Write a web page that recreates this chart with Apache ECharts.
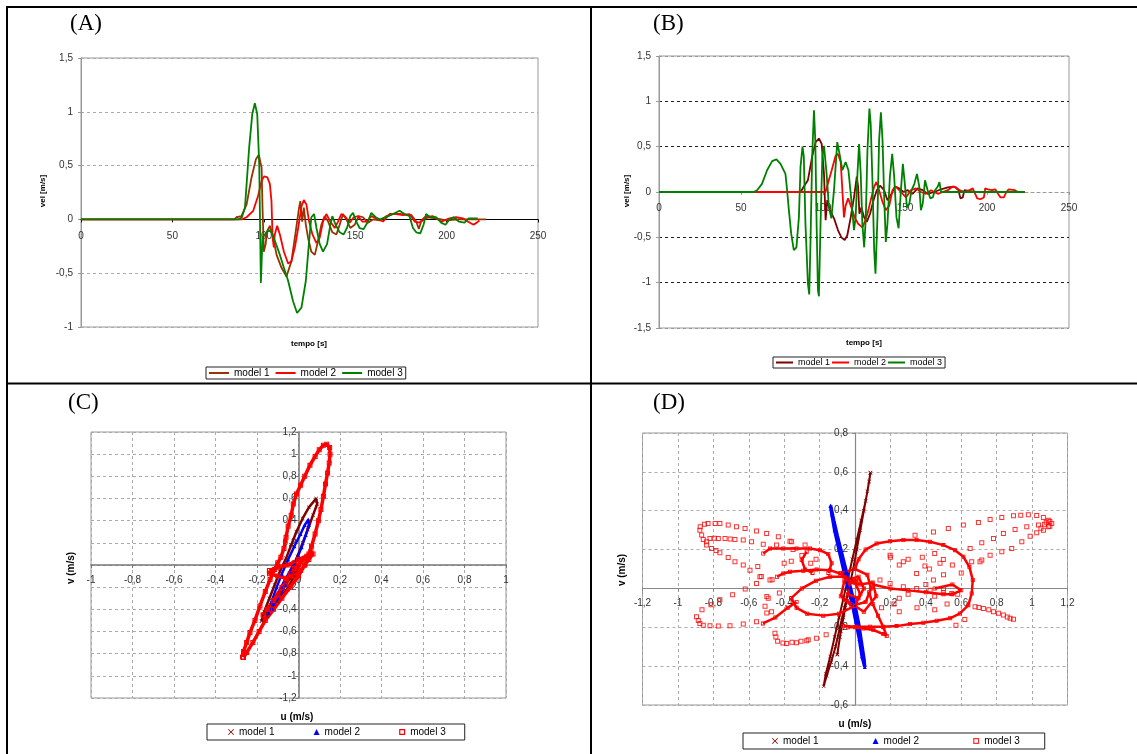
<!DOCTYPE html>
<html><head><meta charset="utf-8">
<script src="https://cdn.jsdelivr.net/npm/echarts@6/dist/echarts.min.js"></script>
<style>html,body{margin:0;padding:0;background:#fff}#c{width:1137px;height:754px}</style>
</head><body><div id="c"></div>
<script>
// ---------- axis ticks ----------
const timeTicks = [0, 50, 100, 150, 200, 250];
const velTicksA = [-1, -0.5, 0, 0.5, 1, 1.5];
const velTicksB = [-1.5, -1, -0.5, 0, 0.5, 1, 1.5];
const uTicksC = [-1, 1, 0.2];
const vTicksC = [-1.2, 1.2, 0.2];
const uTicksD = [-1.2, 1.2, 0.2];
const vTicksD = [-0.6, 0.8, 0.2];
const legendNames = ['model 1', 'model 2', 'model 3'];

// ---------- panel A : velocity time series [t, v] ----------
const a_m1 = [[0,0],[84,0],[85,0.02],[87.8,0.03],[90.6,0.14],[93.3,0.39],[95.7,0.56],[97.3,0.6],[98.8,0.48],[99.3,0.11],[100,-0.3],[101,-0.23],[101.8,-0.11],[103.3,-0.06],[104.8,-0.14],[107,-0.33],[109.7,-0.45],[112.4,-0.53],[115.1,-0.39],[117.5,-0.11],[119.3,0.11],[120,0.17],[121,-0.02],[121.9,0.11],[123,-0.05],[124.2,-0.17],[126,-0.3],[127.9,-0.33],[129.7,-0.2],[131.5,-0.05],[133.3,0.03],[135.2,-0.02],[137.5,-0.12],[139.7,-0.14],[141.5,-0.05],[143.3,0.05],[145.2,0],[147.3,-0.08],[149.7,-0.05],[152,0.03],[154.3,0.02],[157,-0.03],[159.7,0],[163.4,-0.01],[167,0.03],[170.6,0.05],[175.2,0.05],[180.7,0.04],[183.4,-0.02],[184.8,-0.09],[186.1,-0.02],[189.8,0.02],[194.3,0.01],[199.8,-0.01],[207,0],[214.3,0],[221.6,0]];
const a_m2 = [[0,0],[88,0],[90.6,0.02],[94.2,0.08],[96.9,0.22],[98.8,0.36],[100.2,0.4],[102,0.39],[103.3,0.33],[104.2,0.17],[104.8,-0.17],[105.5,-0.26],[106,-0.14],[107.3,-0.06],[108.8,-0.14],[111,-0.3],[113.3,-0.41],[115.1,-0.39],[117,-0.26],[118.8,-0.08],[120.6,0.12],[121.9,0.18],[123.3,0.14],[124.8,-0.02],[126.6,-0.14],[128.8,-0.22],[130.6,-0.17],[132.4,-0.02],[134.2,0.05],[136.4,-0.02],[138.8,-0.08],[140.6,-0.02],[142.4,0.05],[144.8,0.02],[147,-0.03],[149.2,0.02],[151.5,0.03],[153.9,-0.02],[156.4,-0.02],[158.8,0.03],[161.5,0.01],[165.2,-0.02],[168.8,0.05],[172.5,0.05],[176.1,0.04],[179.7,0.05],[182.5,-0.02],[185.2,-0.03],[187.9,0.02],[192.5,0.03],[197,-0.02],[201.6,0.01],[205.2,0.02],[208.9,0.01],[211.6,-0.02],[214.7,-0.05],[216.5,-0.03],[218,-0.01]];
const a_m3 = [[0,0],[86.5,0],[88,0.02],[89.7,0.11],[92,0.67],[93.7,0.98],[95.1,1.08],[96.4,0.98],[97.5,0.51],[98,-0.11],[98.4,-0.59],[99.3,-0.17],[101.5,-0.12],[103,-0.1],[104.2,-0.12],[106.5,-0.22],[108.8,-0.33],[111,-0.45],[113.3,-0.57],[116,-0.76],[118.2,-0.87],[120.6,-0.82],[123,-0.57],[124.8,-0.2],[126,0.02],[127.5,0.05],[128.8,-0.08],[130.6,-0.23],[132.4,-0.3],[134.6,-0.23],[136.4,-0.05],[137.5,0.03],[139.3,-0.05],[141.5,-0.12],[143.7,-0.14],[145.5,-0.08],[147.3,0.03],[148.8,0.06],[150.6,-0.02],[152.4,-0.08],[154.6,-0.09],[157,-0.02],[158.8,0.06],[161.2,0.02],[163.4,0],[167,0.02],[170.6,0.05],[174.3,0.08],[177,0.05],[179.7,0.03],[181.6,-0.08],[183.4,-0.12],[185.6,-0.13],[187.4,-0.05],[188.8,0.05],[191,0.02],[194.3,0.02],[197,-0.03],[199.4,-0.05],[201.6,0],[203.8,0.02],[206.7,-0.02],[209.8,-0.03],[212.1,0.01],[217,0.01]];

// ---------- panel B : velocity time series [t, v] ----------
const b_m1 = [[0,0],[86.3,0],[88.3,0.06],[90.8,0.13],[93.4,0.39],[95.5,0.55],[97.5,0.59],[99.2,0.53],[100.6,0.2],[101.6,-0.31],[102.6,-0.09],[104.2,-0.2],[106.7,-0.29],[109.1,-0.42],[111.2,-0.5],[113.2,-0.53],[114.8,-0.48],[116.9,-0.28],[118.9,-0.06],[120.6,0.17],[121.4,0.06],[122.2,-0.24],[123.4,-0.17],[125.1,-0.28],[126.7,-0.33],[128.7,-0.24],[130.8,-0.09],[132.8,0.02],[134.8,0.07],[137.3,0.02],[139.3,-0.09],[141.8,-0.02],[143.8,0.06],[146.5,0.04],[149.1,0],[151.6,0.02],[154.6,-0.02],[157.7,0.04],[160.8,0.02],[163.8,-0.02],[167.9,0],[172,0.03],[176.1,0.05],[180.1,0.06],[182.6,0.02],[183.8,-0.07],[185.2,-0.06],[186.2,0.02],[192.4,0],[200.5,0],[212.8,0],[223,0]];
const b_m2 = [[0,0],[101.5,0],[102.6,0.02],[105.3,0.24],[107.7,0.4],[109.1,0.42],[110.8,0.33],[111.8,0.02],[112.8,-0.28],[113.8,-0.15],[115.3,-0.07],[117.3,-0.17],[119.3,-0.28],[121.4,-0.35],[124,-0.39],[125.5,-0.33],[127.1,-0.24],[129.1,-0.09],[131.2,0.06],[132.6,0.11],[134.2,0.02],[136.3,-0.11],[138.3,-0.2],[140.4,-0.15],[142.4,0.02],[144.4,0.06],[147.5,0],[150.6,-0.06],[153.6,0.02],[156.7,0.04],[159.7,0],[162.8,-0.02],[165.9,0.02],[170,-0.02],[173,0],[176.1,0.02],[179.1,0.06],[181.2,0.05],[183.2,0.02],[186.2,0],[189.3,0.02],[191.3,0.04],[192.8,-0.02],[194,-0.07],[196,-0.08],[198.1,-0.06],[198.9,0.04],[200.5,0.03],[203,0.02],[205,0.03],[206.7,-0.02],[208.3,-0.06],[210.3,-0.06],[211.8,0],[213.2,0.03],[216.9,0.02],[218.9,0]];
const b_m3 = [[0,0],[57.7,0],[59.8,0.02],[62.8,0.09],[65.9,0.24],[69,0.34],[71.6,0.36],[74.1,0.31],[77.1,0.2],[78.1,0.02],[79.2,-0.2],[80.6,-0.46],[82.2,-0.64],[83.8,-0.61],[85.3,-0.28],[86.3,0.28],[87.5,0.5],[88.3,0.39],[89.3,-0.35],[90.8,-1.01],[91.6,-1.13],[92.4,-0.53],[93.4,0.39],[94.5,0.9],[95.3,0.57],[96.1,-0.35],[96.9,-1.08],[97.5,-1.15],[98.5,-0.35],[99.6,0.39],[100.6,0.51],[102.2,0.2],[103.6,-0.17],[105.1,-0.29],[106.7,0.02],[108.7,0.55],[110.4,0.39],[111.8,0.24],[113.8,0.33],[115.5,0.24],[117.3,-0.09],[118.9,-0.42],[119.9,-0.28],[121,0.2],[122,0.53],[123,0.2],[124,-0.35],[125.1,-0.61],[126.1,-0.28],[127.1,0.46],[128.3,0.92],[129.1,0.75],[130.2,0.09],[131.2,-0.64],[132,-0.9],[133.2,-0.28],[134.2,0.57],[135.3,0.88],[136.3,0.57],[137.3,-0.06],[138.3,-0.55],[139.3,-0.35],[140.8,0.17],[142.2,0.42],[143.4,0.17],[144.8,-0.28],[146.1,-0.4],[147.5,0.02],[148.7,0.31],[149.9,0.09],[151.2,-0.17],[152.6,-0.13],[154,0.02],[155.7,0.09],[157.3,0.2],[158.7,0.06],[159.7,-0.2],[160.8,-0.13],[162.2,0.13],[163.8,0.02],[165.4,-0.07],[166.9,-0.06],[168.3,0.02],[170,0.06],[171,0.11],[172,0],[223,0]];

// ---------- panel C : hodograph [u, v] ----------
const c_m1_loop = [[-0.178,-0.505],[-0.165,-0.42],[-0.14,-0.3],[-0.115,-0.18],[-0.09,-0.06],[-0.06,0.06],[-0.035,0.18],[-0.01,0.3],[0.02,0.42],[0.05,0.52],[0.085,0.6],[0.09,0.55],[0.07,0.45],[0.045,0.32],[0.02,0.2],[-0.005,0.08],[-0.03,-0.04],[-0.06,-0.16],[-0.09,-0.28],[-0.12,-0.38],[-0.15,-0.46],[-0.178,-0.505]];
const c_m1_inner = [[-0.16,-0.44],[-0.1,-0.33],[-0.05,-0.2],[-0.02,-0.1],[0,-0.02],[-0.04,-0.12],[-0.09,-0.25],[-0.13,-0.36],[-0.16,-0.44]];
const c_m2_loop = [[-0.145,-0.43],[-0.13,-0.33],[-0.105,-0.2],[-0.08,-0.08],[-0.05,0.05],[-0.02,0.17],[0.01,0.28],[0.03,0.36],[0.047,0.41],[0.05,0.36],[0.035,0.27],[0.015,0.16],[-0.01,0.05],[-0.035,-0.06],[-0.065,-0.18],[-0.095,-0.3],[-0.125,-0.4],[-0.145,-0.43]];
const c_m2_inner = [[-0.12,-0.35],[-0.07,-0.15],[-0.03,-0.02],[0,0.08],[-0.04,-0.05],[-0.08,-0.2],[-0.12,-0.35]];
const c_m3_outer = [[-0.27,-0.83],[-0.265,-0.78],[-0.25,-0.7],[-0.234,-0.61],[-0.21,-0.5],[-0.186,-0.37],[-0.16,-0.24],[-0.137,-0.13],[-0.115,-0.04],[-0.1,0.02],[-0.085,0.07],[-0.07,0.15],[-0.06,0.25],[-0.05,0.35],[-0.035,0.45],[-0.025,0.55],[-0.01,0.64],[0.01,0.72],[0.03,0.8],[0.055,0.9],[0.08,0.98],[0.1,1.04],[0.12,1.08],[0.136,1.09],[0.15,1.06],[0.152,1.0],[0.148,0.92],[0.14,0.83],[0.13,0.73],[0.12,0.62],[0.108,0.5],[0.096,0.4],[0.08,0.28],[0.063,0.17],[0.05,0.1],[0.03,0.0],[0.0,-0.1],[-0.04,-0.2],[-0.08,-0.3],[-0.12,-0.4],[-0.16,-0.5],[-0.19,-0.6],[-0.22,-0.7],[-0.25,-0.79],[-0.265,-0.835]];
const c_m3_inner = [[-0.14,-0.05],[-0.1,-0.02],[-0.05,0.0],[0,0.05],[0.04,0.08],[0.06,0.12],[0.07,0.1],[0.05,0.05],[0.03,0],[0.01,-0.05],[-0.02,-0.1],[-0.06,-0.12],[-0.1,-0.1],[-0.14,-0.08],[-0.14,-0.05]];
const c_m3_inner2 = [[-0.17,-0.45],[-0.12,-0.32],[-0.08,-0.2],[-0.04,-0.08],[0,0],[0.03,0.06],[-0.02,-0.03],[-0.06,-0.15],[-0.1,-0.27],[-0.15,-0.4],[-0.17,-0.45]];

// ---------- panel D : hodograph [u, v] ----------
const d_m1_loop = [[0.087,0.596],[0.07,0.5],[0.05,0.4],[0.03,0.3],[0.01,0.2],[-0.01,0.1],[-0.035,0],[-0.06,-0.1],[-0.085,-0.2],[-0.11,-0.3],[-0.135,-0.38],[-0.16,-0.45],[-0.177,-0.503],[-0.165,-0.44],[-0.14,-0.35],[-0.115,-0.25],[-0.09,-0.15],[-0.065,-0.05],[-0.04,0.05],[-0.015,0.15],[0.01,0.25],[0.035,0.35],[0.06,0.45],[0.08,0.55],[0.087,0.596]];
const d_m1_branch = [[-0.1,-0.34],[-0.085,-0.25],[-0.065,-0.15],[-0.045,-0.05],[-0.025,0.05],[-0.055,-0.1],[-0.08,-0.22],[-0.1,-0.34]];
const d_m2_loop = [[-0.138,0.425],[-0.12,0.35],[-0.1,0.27],[-0.075,0.18],[-0.05,0.09],[-0.025,0],[0,-0.09],[0.02,-0.18],[0.035,-0.27],[0.05,-0.36],[0.055,-0.404],[0.04,-0.35],[0.025,-0.26],[0.005,-0.17],[-0.015,-0.08],[-0.04,0.01],[-0.065,0.1],[-0.09,0.2],[-0.115,0.3],[-0.13,0.38],[-0.138,0.425]];
const d_m3_points = [[-0.874,0.318],[-0.85,0.33],[-0.83,0.334],[-0.79,0.334],[-0.763,0.334],[-0.716,0.326],[-0.669,0.317],[-0.621,0.308],[-0.556,0.296],[-0.499,0.283],[-0.433,0.266],[-0.358,0.24],[-0.282,0.223],
[-0.876,0.3],[-0.866,0.275],[-0.857,0.252],[-0.838,0.223],[-0.81,0.206],[-0.785,0.195],[-0.763,0.183],[-0.716,0.159],[-0.678,0.137],[-0.631,0.12],[-0.593,0.094],[-0.537,0.06],[-0.48,0.043],
[-0.838,0.24],[-0.819,0.257],[-0.795,0.258],[-0.772,0.257],[-0.734,0.257],[-0.705,0.255],[-0.678,0.252],[-0.631,0.249],[-0.584,0.24],[-0.518,0.228],[-0.443,0.223],[-0.367,0.243],
[-0.895,-0.146],[-0.885,-0.165],[-0.876,-0.18],[-0.857,-0.189],[-0.819,-0.192],[-0.772,-0.194],[-0.706,-0.192],[-0.631,-0.183],[-0.556,-0.171],
[-0.864,-0.11],[-0.813,-0.084],[-0.763,-0.058],[-0.691,-0.033],[-0.62,-0.003],[-0.556,0.026],
[-0.549,0.113],[-0.529,0.062],[-0.498,-0.041],[-0.508,-0.092],[-0.498,-0.127],[-0.468,0.045],[-0.427,-0.024],[-0.49,-0.05],[-0.471,-0.12],
[-0.452,-0.231],[-0.447,-0.25],[-0.437,-0.272],[-0.407,-0.281],[-0.386,-0.283],[-0.356,-0.277],[-0.33,-0.279],[-0.305,-0.272],[-0.273,-0.269],[-0.264,-0.264],[-0.217,-0.257],[-0.163,-0.238],
[0.339,0.274],[0.443,0.291],[0.527,0.308],[0.612,0.326],[0.697,0.339],[0.763,0.355],[0.829,0.365],[0.895,0.374],[0.936,0.377],[0.979,0.379],[1.026,0.375],[1.064,0.365],[1.092,0.351],[1.111,0.334],[1.1,0.32],[1.092,0.317],[1.064,0.3],[1.026,0.286],[0.989,0.269],[0.942,0.24],[0.885,0.206],[0.829,0.189],[0.763,0.171],[0.716,0.146],[0.659,0.137],
[1.036,0.326],[0.97,0.317],[0.904,0.303],[0.838,0.283],[0.782,0.257],[0.716,0.235],[0.65,0.206],
[1.08,0.34],[1.1,0.345],[1.07,0.33],[1.05,0.31],
[0.348,0.077],[0.443,0.043],[0.48,0.129],[0.38,0.16],[0.3,0.15],[0.25,0.12],[0.42,0.1],[0.55,0.12],[0.6,0.08],[0.5,0.07],[0.2,0.16],[0.45,0.18],[0.198,0.171],[0.273,0.137],[0.395,0.115],[0.499,0.149],[0.706,0.137],
[0.678,-0.094],[0.7,-0.098],[0.725,-0.103],[0.755,-0.11],[0.782,-0.12],[0.81,-0.128],[0.838,-0.137],[0.86,-0.147],[0.876,-0.154],[0.895,-0.159],
[0.141,0.043],[0.198,0.026],[0.273,0.009],[0.348,0],[0.424,-0.009],[0.499,-0.022],[0.546,-0.026],[0.58,-0.03],[0.5,0.0],[0.45,-0.04],[0.3,-0.03],[0.25,-0.05],[0.4,0.02],
[-0.3,0.17],[-0.22,0.15],[-0.25,0.13],[-0.36,0.14],[-0.4,0.13],[-0.35,0.2],
[0.15,-0.1],[0.25,-0.12],[0.35,-0.1],[0.45,-0.11],[0.52,-0.08],[0.22,-0.08],[0.62,-0.16],[0.57,-0.19]];
const d_m3_loopR = [[-0.066,-0.194],[0.009,-0.197],[0.085,-0.197],[0.16,-0.197],[0.235,-0.194],[0.311,-0.183],[0.386,-0.177],[0.461,-0.166],[0.537,-0.154],[0.593,-0.129],[0.64,-0.086],[0.659,-0.026],[0.665,0.043],[0.646,0.111],[0.612,0.163],[0.565,0.197],[0.499,0.223],[0.424,0.24],[0.348,0.249],[0.273,0.249],[0.198,0.243],[0.122,0.231],[0.06,0.2],[0.02,0.15],[0.0,0.1]];
const d_m3_ringL = [[-0.36,-0.05],[-0.33,-0.1],[-0.27,-0.13],[-0.18,-0.14],[-0.09,-0.13],[0.0,-0.09],[0.03,-0.03],[0.0,0.03],[-0.06,0.06],[-0.14,0.06],[-0.22,0.04],[-0.3,0.0],[-0.36,-0.05]];
const d_m3_upperL = [[-0.44,0.06],[-0.405,0.077],[-0.367,0.086],[-0.292,0.091],[-0.217,0.098],[-0.141,0.094],[-0.085,0.077],[-0.04,0.05],[0.02,0.04]];
const d_m3_topL = [[-0.518,0.18],[-0.48,0.206],[-0.405,0.206],[-0.33,0.206],[-0.254,0.206],[-0.198,0.197],[-0.151,0.177],[-0.132,0.129],[-0.15,0.08]];
const d_m3_arcL = [[-0.273,0.189],[-0.301,0.146],[-0.282,0.098],[-0.24,0.08]];
const d_m3_lowL = [[-0.52,-0.18],[-0.45,-0.15],[-0.38,-0.1],[-0.33,-0.07]];
const d_m3_lowC = [[-0.04,-0.2],[0.0,-0.2],[0.047,-0.206],[0.104,-0.214],[0.16,-0.235],[0.179,-0.245],[0.16,-0.2],[0.13,-0.14],[0.1,-0.08],[0.08,-0.02]];
const d_m3_core = [[-0.08,0.08],[0.0,0.1],[0.07,0.07],[0.09,0.0],[0.06,-0.07],[-0.02,-0.09],[-0.08,-0.04],[-0.06,0.04],[0.02,0.06],[0.05,0.0],[0.02,-0.05],[-0.04,-0.03],[-0.03,0.03],[0.03,0.02],[0.1,0.03],[0.12,-0.04],[0.05,-0.12],[-0.05,-0.06]];
const d_m3_band = [[0.1,0.02],[0.2,0.0],[0.3,-0.01],[0.4,-0.02],[0.5,-0.03],[0.55,-0.03],[0.6,-0.01],[0.55,0.02],[0.45,0.0]];

// ---------- styling ----------
const FONT = 'Arial, "Liberation Sans", sans-serif';
const SERIF = '"Liberation Serif", "Times New Roman", serif';
const X_PATH = 'path://M0,1L1,0L5,4L9,0L10,1L6,5L10,9L9,10L5,6L1,10L0,9L4,5Z';
const SQ_PATH = 'path://M0,0H10V10H0ZM2,2V8H8V2Z';
const fmt = v => String(Math.round(v * 100) / 100).replace('.', ',');
const labelStyle = (margin) => ({margin, fontSize: 10, color: '#333', fontFamily: FONT, formatter: fmt});

// grid layout (pixels)
const G = [
  {left: 81, top: 58, width: 457, height: 269},
  {left: 659, top: 56, width: 410, height: 272},
  {left: 91, top: 432, width: 415, height: 266},
  {left: 642.5, top: 433, width: 425, height: 272}
];
// offset that places an axis on the other axis' zero
const xZeroOffset = (g, min, max) => -(g.height * (0 - min) / (max - min));
const yZeroOffset = (g, min, max) => -(g.width * (0 - min) / (max - min));

function tsLine(name, data, color, idx) {
  return {type: 'line', name, data, xAxisIndex: idx, yAxisIndex: idx, showSymbol: false,
    lineStyle: {width: 1.8, color}, itemStyle: {color}, color, z: 3, silent: true};
}
function hodo(name, data, color, idx, symbol, symSize, width) {
  return {type: 'line', name, data, xAxisIndex: idx, yAxisIndex: idx, symbol, symbolSize: symSize,
    showSymbol: true, lineStyle: {width, color}, itemStyle: {color}, color, z: 3, silent: true};
}
const lineLegend = (sfx, left, top, gap, fs, iw) => ({
  left, top, orient: 'horizontal', selectedMode: false, icon: 'rect', itemWidth: iw, itemHeight: 2, itemGap: gap,
  padding: [1, 3], borderColor: '#222', borderWidth: 1,
  data: legendNames.map(n => n + '|' + sfx), formatter: n => n.split('|')[0],
  textStyle: {fontSize: fs, fontFamily: FONT, color: '#000'}
});
const markLegend = (sfx, left, top, gap, pad) => ({
  left, top, orient: 'horizontal', selectedMode: false, itemWidth: 6, itemHeight: 6, itemGap: gap,
  padding: pad, borderColor: '#222', borderWidth: 1,
  data: [{name: legendNames[0] + '|' + sfx, icon: X_PATH}, {name: legendNames[1] + '|' + sfx, icon: 'triangle'}, {name: legendNames[2] + '|' + sfx, icon: SQ_PATH}],
  formatter: n => n.split('|')[0],
  textStyle: {fontSize: 10, fontFamily: FONT, color: '#000'}
});

const gridBox = {show: true, borderColor: '#999', borderWidth: 1, backgroundColor: 'transparent'};
const dashGrey = {show: true, lineStyle: {color: '#aaa', type: [3, 3], width: 1}};

const option = {
  animation: false,
  grid: G.map(g => Object.assign({}, g, gridBox)),
  xAxis: [
    {gridIndex: 0, type: 'value', min: timeTicks[0], max: timeTicks[timeTicks.length - 1], interval: timeTicks[1] - timeTicks[0], z: 1,
      offset: xZeroOffset(G[0], velTicksA[0], velTicksA[velTicksA.length - 1]),
      axisLine: {onZero: false, lineStyle: {color: '#000', width: 1}}, axisTick: {show: true, length: 3, lineStyle: {color: '#000'}},
      axisLabel: labelStyle(12), splitLine: {show: false}},
    {gridIndex: 1, type: 'value', min: timeTicks[0], max: timeTicks[timeTicks.length - 1], interval: timeTicks[1] - timeTicks[0], z: 1,
      offset: xZeroOffset(G[1], velTicksB[0], velTicksB[velTicksB.length - 1]),
      axisLine: {onZero: false, lineStyle: {color: '#999', width: 1, type: [3, 3]}}, axisTick: {show: true, length: 3, lineStyle: {color: '#999'}},
      axisLabel: labelStyle(11), splitLine: {show: false}},
    {gridIndex: 2, type: 'value', min: uTicksC[0], max: uTicksC[1], interval: uTicksC[2], z: 1,
      offset: xZeroOffset(G[2], vTicksC[0], vTicksC[1]),
      axisLine: {onZero: false, lineStyle: {color: '#777', width: 1.5}}, axisTick: {show: true, length: 3, lineStyle: {color: '#777'}},
      axisLabel: labelStyle(10), splitLine: dashGrey},
    {gridIndex: 3, type: 'value', min: uTicksD[0], max: uTicksD[1], interval: uTicksD[2], z: 1,
      offset: xZeroOffset(G[3], vTicksD[0], vTicksD[1]),
      axisLine: {onZero: false, lineStyle: {color: '#888', width: 1.2}}, axisTick: {show: true, length: 3, lineStyle: {color: '#888'}},
      axisLabel: labelStyle(10), splitLine: dashGrey}
  ],
  yAxis: [
    {gridIndex: 0, type: 'value', min: velTicksA[0], max: velTicksA[velTicksA.length - 1], interval: velTicksA[1] - velTicksA[0], z: 0,
      axisLine: {show: true, onZero: false, lineStyle: {color: '#999'}}, axisTick: {show: true, length: 3, lineStyle: {color: '#999'}},
      axisLabel: labelStyle(8), splitLine: dashGrey},
    {gridIndex: 1, type: 'value', min: velTicksB[0], max: velTicksB[velTicksB.length - 1], interval: velTicksB[1] - velTicksB[0], z: 0,
      axisLine: {show: true, onZero: false, lineStyle: {color: '#999'}}, axisTick: {show: true, length: 3, lineStyle: {color: '#999'}},
      axisLabel: labelStyle(8), splitLine: {show: true, lineStyle: {color: ['#999', '#222', '#222', '#999', '#222', '#222', '#999'], type: [3, 3], width: 1}}},
    {gridIndex: 2, type: 'value', min: vTicksC[0], max: vTicksC[1], interval: vTicksC[2], z: 1,
      offset: yZeroOffset(G[2], uTicksC[0], uTicksC[1]),
      axisLine: {onZero: false, lineStyle: {color: '#777', width: 1.5}}, axisTick: {show: true, length: 3, lineStyle: {color: '#777'}},
      axisLabel: labelStyle(2), splitLine: dashGrey},
    {gridIndex: 3, type: 'value', min: vTicksD[0], max: vTicksD[1], interval: vTicksD[2], z: 1,
      offset: yZeroOffset(G[3], uTicksD[0], uTicksD[1]),
      axisLine: {onZero: false, lineStyle: {color: '#888', width: 1.2}}, axisTick: {show: true, length: 3, lineStyle: {color: '#888'}},
      axisLabel: labelStyle(7), splitLine: dashGrey}
  ],
  legend: [
    lineLegend('A', 206, 367, 6, 10, 20),
    lineLegend('B', 773, 357, 2, 9, 17),
    markLegend('C', 207, 724, 39, [3, 19, 3, 21]),
    markLegend('D', 743, 733, 54, [3, 25, 3, 29])
  ],
  series: [
    tsLine('model 1|A', a_m1, '#993300', 0),
    tsLine('model 2|A', a_m2, '#FF0000', 0),
    tsLine('model 3|A', a_m3, '#008000', 0),
    tsLine('model 1|B', b_m1, '#800000', 1),
    tsLine('model 2|B', b_m2, '#FF0000', 1),
    tsLine('model 3|B', b_m3, '#008000', 1),
    hodo('model 1|C', c_m1_loop, '#800000', 2, X_PATH, 4, 2.5),
    hodo('model 1|C', c_m1_inner, '#800000', 2, X_PATH, 4, 2.5),
    hodo('model 2|C', c_m2_loop, '#0000FF', 2, 'triangle', 4, 2.5),
    hodo('model 2|C', c_m2_inner, '#0000FF', 2, 'triangle', 4, 2.5),
    hodo('model 3|C', c_m3_outer, '#FF0000', 2, SQ_PATH, 5, 3.5),
    hodo('model 3|C', c_m3_inner, '#FF0000', 2, SQ_PATH, 5, 3.5),
    hodo('model 3|C', c_m3_inner2, '#FF0000', 2, SQ_PATH, 5, 3.5),
    hodo('model 1|D', d_m1_loop, '#800000', 3, X_PATH, 4, 2),
    hodo('model 1|D', d_m1_branch, '#800000', 3, X_PATH, 4, 2),
    hodo('model 2|D', d_m2_loop, '#0000FF', 3, 'triangle', 4, 3.5),
    {type: 'scatter', name: 'model 3|D', data: d_m3_points, xAxisIndex: 3, yAxisIndex: 3, symbol: SQ_PATH, symbolSize: 5,
      itemStyle: {color: '#FF0000'}, color: '#FF0000', z: 3, silent: true},
    hodo('model 3|D', d_m3_loopR, '#FF0000', 3, SQ_PATH, 4, 2.5),
    hodo('model 3|D', d_m3_ringL, '#FF0000', 3, SQ_PATH, 4, 2.5),
    hodo('model 3|D', d_m3_upperL, '#FF0000', 3, SQ_PATH, 4, 2.5),
    hodo('model 3|D', d_m3_topL, '#FF0000', 3, SQ_PATH, 4, 2.5),
    hodo('model 3|D', d_m3_arcL, '#FF0000', 3, SQ_PATH, 4, 2.5),
    hodo('model 3|D', d_m3_lowL, '#FF0000', 3, SQ_PATH, 4, 2.5),
    hodo('model 3|D', d_m3_lowC, '#FF0000', 3, SQ_PATH, 4, 2.5),
    hodo('model 3|D', d_m3_core, '#FF0000', 3, SQ_PATH, 4, 2.5),
    hodo('model 3|D', d_m3_band, '#FF0000', 3, SQ_PATH, 4, 2.5)
  ],
  graphic: [
    {type: 'line', silent: true, shape: {x1: 6, y1: 7, x2: 1137, y2: 7}, style: {stroke: '#000', lineWidth: 2}},
    {type: 'line', silent: true, shape: {x1: 7, y1: 6, x2: 7, y2: 754}, style: {stroke: '#000', lineWidth: 2}},
    {type: 'line', silent: true, shape: {x1: 591, y1: 6, x2: 591, y2: 754}, style: {stroke: '#000', lineWidth: 2}},
    {type: 'line', silent: true, shape: {x1: 6, y1: 383.5, x2: 1137, y2: 383.5}, style: {stroke: '#000', lineWidth: 2}},
    {type: 'text', silent: true, x: 70, y: 24, style: {text: '(A)', font: '23px ' + SERIF, fill: '#000', verticalAlign: 'middle'}},
    {type: 'text', silent: true, x: 653, y: 24, style: {text: '(B)', font: '23px ' + SERIF, fill: '#000', verticalAlign: 'middle'}},
    {type: 'text', silent: true, x: 68, y: 403, style: {text: '(C)', font: '23px ' + SERIF, fill: '#000', verticalAlign: 'middle'}},
    {type: 'text', silent: true, x: 653, y: 403, style: {text: '(D)', font: '23px ' + SERIF, fill: '#000', verticalAlign: 'middle'}},
    {type: 'text', silent: true, x: 43, y: 191, rotation: Math.PI / 2, style: {text: 'vel [m/s]', font: 'bold 8px ' + FONT, fill: '#000', align: 'center', verticalAlign: 'middle'}},
    {type: 'text', silent: true, x: 309, y: 344, style: {text: 'tempo [s]', font: 'bold 8px ' + FONT, fill: '#000', align: 'center', verticalAlign: 'middle'}},
    {type: 'text', silent: true, x: 627, y: 191, rotation: Math.PI / 2, style: {text: 'vel [m/s]', font: 'bold 8px ' + FONT, fill: '#000', align: 'center', verticalAlign: 'middle'}},
    {type: 'text', silent: true, x: 864, y: 343, style: {text: 'tempo [s]', font: 'bold 8px ' + FONT, fill: '#000', align: 'center', verticalAlign: 'middle'}},
    {type: 'text', silent: true, x: 71, y: 568, rotation: Math.PI / 2, style: {text: 'v (m/s)', font: 'bold 10px ' + FONT, fill: '#000', align: 'center', verticalAlign: 'middle'}},
    {type: 'text', silent: true, x: 297, y: 717, style: {text: 'u (m/s)', font: 'bold 10px ' + FONT, fill: '#000', align: 'center', verticalAlign: 'middle'}},
    {type: 'text', silent: true, x: 622, y: 570, rotation: Math.PI / 2, style: {text: 'v (m/s)', font: 'bold 10px ' + FONT, fill: '#000', align: 'center', verticalAlign: 'middle'}},
    {type: 'text', silent: true, x: 855, y: 724, style: {text: 'u (m/s)', font: 'bold 10px ' + FONT, fill: '#000', align: 'center', verticalAlign: 'middle'}}
  ]
};
const chart = echarts.init(document.getElementById('c'), null, {renderer: 'canvas'});
chart.setOption(option);
</script>
</body></html>
